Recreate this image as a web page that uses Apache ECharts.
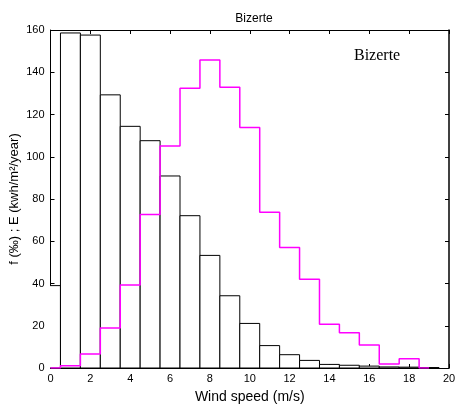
<!DOCTYPE html>
<html>
<head>
<meta charset="utf-8">
<script src="https://cdn.jsdelivr.net/npm/echarts@6/dist/echarts.min.js"></script>
<style>
  html, body { margin: 0; padding: 0; background: #fff; }
  #chart { width: 458px; height: 407px; }
</style>
</head>
<body>
<div id="chart"></div>
<script>
// bin centres (m/s) and frequency f (per mille) per bin
let speeds = [0, 1, 2, 3, 4, 5, 6, 7, 8, 9, 10, 11, 12, 13, 14, 15, 16, 17, 18, 19];
let freq = [39, 158.6, 157.6, 129.3, 114.4, 107.6, 90.9, 72.1, 53.3, 34.2, 21.1, 10.6, 6.3, 3.6, 1.7, 1.3, 0.9, 0.5, 0.4, 0.2];
// energy E (kWh/m²/year) per bin
let energy = [0, 1.1, 6.6, 18.9, 39.3, 72.7, 105.1, 132.4, 145.8, 132.9, 113.8, 73.7, 57.1, 42.0, 20.7, 16.7, 10.9, 1.9, 4.4, 0];
let xTicks = [0, 2, 4, 6, 8, 10, 12, 14, 16, 18, 20];

var axisFont = 'Liberation Sans, Arial, sans-serif';
var chart = echarts.init(document.getElementById('chart'));

let freqSeries = {
    name: 'f',
    type: 'custom',
    clip: true,
    z: 2,
    renderItem: function (params, api) {
        var x = api.value(0);
        var h = api.value(1);
        var p0 = api.coord([x - 0.5, h]);
        var p1 = api.coord([x + 0.5, 0]);
        return {
            type: 'rect',
            shape: { x: p0[0], y: p0[1], width: p1[0] - p0[0], height: p1[1] - p0[1] },
            style: { fill: '#fff', stroke: '#000', lineWidth: 1 }
        };
    },
    encode: { x: 0, y: 1 },
    data: speeds.map(function (s, i) { return [s, freq[i]]; })
};

let energySeries = {
    name: 'E',
    type: 'line',
    step: 'middle',
    z: 3,
    symbol: 'none',
    showSymbol: false,
    color: '#ff00ff',
    lineStyle: { width: 1.5, color: '#ff00ff' },
    data: speeds.map(function (s, i) { return [s, energy[i]]; })
};

var option = {
    animation: false,
    backgroundColor: '#fff',
    grid: { left: 50.5, right: 9, top: 30, bottom: 39, outerBoundsMode: 'none', containLabel: false },
    title: {
        text: 'Bizerte',
        left: 249,
        textAlign: 'center',
        top: 8,
        textStyle: { fontFamily: axisFont, fontSize: 12, fontWeight: 'normal', color: '#000' }
    },
    graphic: [{
        type: 'text',
        left: 354,
        top: 48,
        style: { text: 'Bizerte', font: '16px "Liberation Serif", "Times New Roman", serif', fill: '#000' }
    }],
    xAxis: [{
        type: 'value',
        min: 0, max: 20, interval: 2,
        name: 'Wind speed (m/s)',
        nameLocation: 'middle',
        nameGap: 22,
        nameMoveOverlap: false,
        nameTextStyle: { fontFamily: axisFont, fontSize: 14, color: '#000' },
        axisLine: { lineStyle: { color: '#000', width: 1 } },
        axisTick: { inside: true, length: 4, lineStyle: { color: '#000' } },
        axisLabel: { fontFamily: axisFont, fontSize: 11, color: '#000', margin: 5,
            formatter: function (v) { return xTicks.indexOf(v) >= 0 ? String(v) : ''; } },
        splitLine: { show: false }
    }, {
        type: 'value', position: 'top',
        min: 0, max: 20, interval: 2,
        axisLine: { onZero: false, lineStyle: { color: '#000', width: 1 } },
        axisTick: { inside: true, length: 4, lineStyle: { color: '#000' } },
        axisLabel: { show: false },
        splitLine: { show: false }
    }],
    yAxis: [{
        type: 'value',
        min: 0, max: 160, interval: 20,
        name: 'f (‰) ; E (kwh/m²/year)',
        nameLocation: 'middle',
        nameGap: 30,
        nameMoveOverlap: false,
        nameTextStyle: { fontFamily: axisFont, fontSize: 13, color: '#000' },
        axisLine: { show: true, lineStyle: { color: '#000', width: 1 } },
        axisTick: { show: true, inside: true, length: 4, lineStyle: { color: '#000' } },
        axisLabel: { fontFamily: axisFont, fontSize: 11, color: '#000', margin: 6 },
        splitLine: { show: false }
    }, {
        type: 'value', position: 'right',
        min: 0, max: 160, interval: 20,
        axisLine: { show: true, onZero: false, lineStyle: { color: '#000', width: 1.5 } },
        axisTick: { show: true, inside: true, length: 4, lineStyle: { color: '#000' } },
        axisLabel: { show: false },
        splitLine: { show: false }
    }],
    series: [freqSeries, energySeries]
};

chart.setOption(option);
</script>
</body>
</html>
